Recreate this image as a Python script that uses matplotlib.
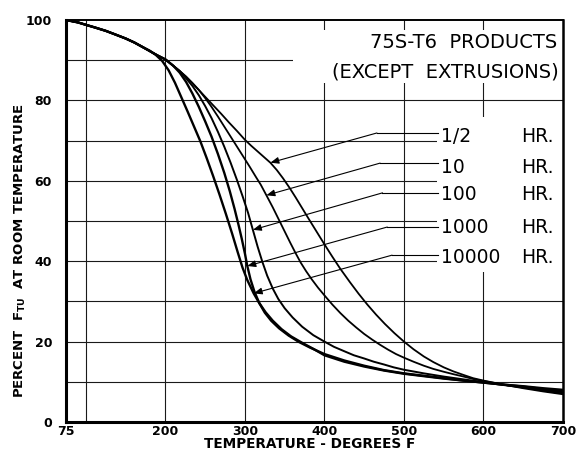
import numpy as np
import matplotlib.pyplot as plt
from matplotlib.patches import Rectangle

# percent of room temperature F_TU vs exposure temperature (deg F), 75S-T6
top_t = [75, 90, 100, 112, 125, 137, 150, 161, 172, 180, 190, 200, 210]
top_p = [100, 99.4, 98.8, 98.1, 97.3, 96.4, 95.4, 94.4, 93.2, 92.3, 91.2, 90.2, 88.6]

t_half = top_t + [218, 226, 234, 242, 250, 260, 270, 280, 290, 300, 308, 316, 324, 332, 340, 348, 356,
                  364, 372, 380, 390, 400, 410, 420, 432, 443, 454, 465, 476, 488, 500, 512, 525, 537,
                  550, 562, 575, 587, 600, 625, 650, 675, 700]
p_half = top_p + [87.3, 85.9, 84.3, 82.6, 80.9, 78.8, 76.7, 74.5, 72.4, 70.2, 68.7, 67.3, 65.9, 64.5,
                  62.7, 60.6, 58.3, 55.8, 53.2, 50.6, 47.4, 44.2, 41.1, 38.1, 34.8, 31.9, 29.2, 26.7,
                  24.4, 22.1, 20.0, 18.1, 16.3, 14.9, 13.6, 12.6, 11.7, 10.9, 10.3, 9.3, 8.4, 7.6, 6.9]

t_10 = top_t + [218, 226, 234, 242, 250, 258, 266, 274, 282, 290, 298, 306, 314, 320, 327, 335, 343,
                350, 357, 364, 370, 377, 384, 392, 400, 410, 420, 430, 440, 450, 460, 470, 480, 490,
                500, 512, 525, 537, 550, 562, 575, 587, 600, 625, 650, 675, 700]
p_10 = top_p + [87.3, 85.9, 84.3, 82.6, 80.6, 78.4, 76.0, 73.5, 71.0, 68.5, 66.0, 63.5, 60.9, 59.0,
                56.4, 53.4, 50.2, 47.4, 44.6, 41.9, 39.7, 37.5, 35.5, 33.4, 31.5, 29.2, 27.1, 25.2,
                23.5, 21.9, 20.5, 19.2, 18.0, 16.9, 16.0, 15.0, 14.0, 13.2, 12.5, 11.9, 11.3, 10.7,
                10.2, 9.3, 8.6, 7.8, 7.1]

t_100 = top_t + [218, 226, 234, 242, 250, 258, 266, 274, 282, 290, 297, 304, 310, 316, 322, 328, 335,
                 342, 350, 360, 372, 386, 400, 412, 425, 437, 450, 462, 475, 487, 500, 525, 550, 575,
                 600, 625, 650, 675, 700]
p_100 = top_p + [87.3, 85.5, 83.6, 81.3, 78.6, 75.6, 72.2, 68.5, 64.5, 60.2, 56.2, 52.0, 47.8, 43.6,
                 39.8, 36.4, 33.2, 30.6, 28.3, 26.0, 23.7, 21.6, 20.0, 18.7, 17.6, 16.6, 15.8, 15.0,
                 14.3, 13.6, 13.0, 12.1, 11.3, 10.6, 9.9, 9.2, 8.6, 8.0, 7.4]

t_1000 = top_t + [218, 226, 234, 242, 250, 258, 266, 274, 281, 287, 292, 296, 300, 303, 307, 312, 318,
                  325, 333, 343, 355, 368, 382, 400, 425, 450, 475, 500, 525, 550, 575, 600, 625, 650,
                  675, 700]
p_1000 = top_p + [86.9, 84.6, 81.7, 78.4, 74.8, 71.0, 66.7, 62.0, 57.4, 53.0, 49.0, 45.6, 41.9, 38.8,
                  35.5, 32.4, 29.6, 27.2, 25.2, 23.3, 21.5, 19.9, 18.5, 16.9, 15.3, 14.0, 12.9, 12.1,
                  11.5, 10.9, 10.3, 9.8, 9.3, 8.8, 8.2, 7.7]

t_10000 = top_t[:9] + [180, 188, 196, 204, 212, 220, 228, 236, 244, 252, 260, 268, 276, 284, 291, 297,
                       303, 311, 318, 326, 335, 346, 358, 372, 386, 400, 425, 450, 475, 500, 525, 550,
                       575, 600, 625, 650, 675, 700]
p_10000 = top_p[:9] + [92.4, 91.3, 89.8, 87.5, 84.4, 80.8, 77.2, 73.5, 69.8, 65.6, 61.2, 56.6, 51.8,
                       46.8, 42.2, 38.4, 35.3, 32.0, 29.6, 27.3, 25.2, 23.1, 21.3, 19.7, 18.2, 16.6,
                       15.0, 13.8, 12.8, 12.0, 11.4, 10.8, 10.3, 9.8, 9.3, 8.9, 8.4, 8.0]

curve_t = [t_half, t_10, t_100, t_1000, t_10000]
curve_p = [p_half, p_10, p_100, p_1000, p_10000]
curve_lw = [1.3, 1.3, 1.4, 1.7, 1.7]

hours = ['1/2', '10', '100', '1000', '10000']
label_p = [71.1, 63.4, 56.5, 48.3, 41.0]
leader_p = [71.9, 64.4, 57.0, 48.5, 41.5]
corner_t = [466, 470, 473, 479, 485]
arrow_t = [332, 327, 310, 303, 311]
arrow_p = [64.5, 56.4, 47.8, 38.8, 32.0]

fig = plt.figure(figsize=(5.79, 4.53), dpi=100)
ax = fig.add_axes([66 / 579, 1 - 422 / 453, 497 / 579, 402 / 453])
ax.set_xlim(75, 700)
ax.set_ylim(0, 100)

# grid
for x in [100, 200, 300, 400, 500, 600]:
    ax.axvline(x, color='#1a1a1a', lw=0.8, zorder=1)
for y in range(10, 100, 10):
    ax.axhline(y, color='#1a1a1a', lw=0.8, zorder=1)

# blank areas behind the title and the hour labels
ax.add_patch(Rectangle((360, 84.3), 340, 13.2, facecolor='white', edgecolor='none', zorder=2))
ax.add_patch(Rectangle((541, 37.3), 159, 38.6, facecolor='white', edgecolor='none', zorder=2))

for t, p, lw in zip(curve_t, curve_p, curve_lw):
    ax.plot(t, p, color='black', lw=lw, zorder=4, solid_joinstyle='round')

for h, lp, ld, ct, at, ap in zip(hours, label_p, leader_p, corner_t, arrow_t, arrow_p):
    ax.text(546, lp, h, fontsize=13.5, ha='left', va='center', zorder=5)
    ax.text(647, lp, 'HR.', fontsize=13.5, ha='left', va='center', zorder=5)
    ax.plot([543, ct], [ld, ld], color='black', lw=0.8, zorder=3)
    ax.annotate('', xy=(at, ap), xytext=(ct, ld),
                arrowprops=dict(arrowstyle='-|>,head_length=0.5,head_width=0.2',
                                color='black', lw=0.8, shrinkA=0, shrinkB=0), zorder=3)

ax.text(693, 94.3, '75S-T6  PRODUCTS', fontsize=14, ha='right', va='center', zorder=5)
ax.text(695, 87.1, '(EXCEPT  EXTRUSIONS)', fontsize=14, ha='right', va='center', zorder=5)

ax.set_xticks([75, 200, 300, 400, 500, 600, 700])
ax.set_yticks([0, 20, 40, 60, 80, 100])
ax.tick_params(axis='x', length=0, labelsize=9, pad=2)
ax.tick_params(axis='y', length=0, labelsize=9, pad=10)
for lab in ax.get_xticklabels() + ax.get_yticklabels():
    lab.set_fontweight('bold')

ax.spines['left'].set_linewidth(2.2)
ax.spines['bottom'].set_linewidth(2.2)
ax.spines['right'].set_linewidth(1.8)
ax.spines['top'].set_linewidth(1.4)

fig.text(310 / 579, 1 - 444 / 453, 'TEMPERATURE - DEGREES F', fontsize=9.8, fontweight='bold',
         ha='center', va='center')
fig.text(20 / 579, 1 - 251 / 453, r'PERCENT  $\mathregular{F_{TU}}$  AT ROOM TEMPERATURE',
         fontsize=9.5, fontweight='bold', rotation=90, ha='center', va='center')

fig.savefig('out.png', dpi=100)
